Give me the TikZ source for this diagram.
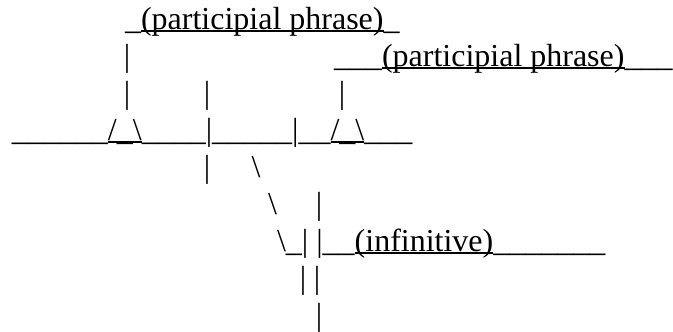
\documentclass[tikz,border=0pt]{standalone}
\usepackage{fontspec}
\setmainfont{Liberation Serif}

% Underline set at the level of the underscore glyph, slightly heavier
\newsavebox\ulcharbox
\newsavebox\ultextbox
\newlength\ulgap
\newcommand\ulx[1]{%
  \sbox\ulcharbox{\_}\ulgap=\dp\ulcharbox
  \sbox\ultextbox{#1}%
  \rlap{\rule[\dimexpr-\ulgap+0.8pt\relax]{\wd\ultextbox}{2.4pt}}%
  \usebox\ultextbox}

\tikzset{
  txt/.style={inner sep=0pt, outer sep=0pt, anchor=base west,
              font=\fontsize{32}{37}\selectfont},
  glyph/.style={txt, anchor=base},
}

\begin{document}
\begin{tikzpicture}[x=1pt, y=-1pt]
\useasboundingbox (0,0) rectangle (673,332);

% participial phrases above the base line
\node[txt] (phraseA) at (125,29) {\_\ulx{(participial phrase)}\_};
\node[txt] (phraseB) at (334,66) {\_\_\_\ulx{(participial phrase)}\_\_\_};
\node[glyph] (legA1) at (127,66) {|};
\node[glyph] (legA2) at (127,103) {|};
\node[glyph] (divUp) at (207,103) {|};
\node[glyph] (legB) at (342,103) {|};

% base line
\node[txt] (baseline) at (12,140)
  {\_\_\_\_\_\_\ulx{/\_\textbackslash}\_\_\_\_|\_\_\_\_\_|\_\_\ulx{/\_\textbackslash}\_\_\_};

% below the base line
\node[glyph] (divDown) at (207,177) {|};
\node[glyph] (slantA) at (256,177) {\textbackslash};
\node[glyph] (slantB) at (272.5,214) {\textbackslash};
\node[glyph] (infTop) at (319,214) {|};
\node[txt] (infinitive) at (277,251)
  {\textbackslash\_| |\_\_\ulx{(infinitive)}\_\_\_\_\_\_\_};
\node[glyph] (stemA) at (303,288) {|};
\node[glyph] (stemB) at (317,288) {|};
\node[glyph] (stemC) at (319,325) {|};
\end{tikzpicture}
\end{document}
